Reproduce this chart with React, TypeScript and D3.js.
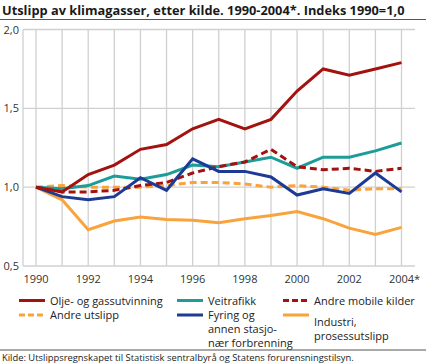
import React from "react";
import * as d3 from "d3";

const years = [1990, 1991, 1992, 1993, 1994, 1995, 1996, 1997, 1998, 1999, 2000, 2001, 2002, 2003, 2004];
const tickYears = [1990, 1992, 1994, 1996, 1998, 2000, 2002, 2004];
const tickYearLabels = ["1990", "1992", "1994", "1996", "1998", "2000", "2002", "2004*"];
const yTicks = [0.5, 1.0, 1.5, 2.0];

const oljeGass = [1.0, 0.97, 1.08, 1.14, 1.24, 1.27, 1.37, 1.43, 1.37, 1.43, 1.61, 1.75, 1.71, 1.75, 1.79];
const veitrafikk = [1.0, 0.99, 1.01, 1.07, 1.05, 1.08, 1.14, 1.13, 1.16, 1.19, 1.12, 1.19, 1.19, 1.23, 1.28];
const andreMobile = [1.0, 0.97, 0.97, 0.98, 1.01, 1.03, 1.09, 1.13, 1.16, 1.24, 1.13, 1.11, 1.12, 1.1, 1.12];
const andreUtslipp = [1.0, 1.01, 1.0, 1.0, 1.0, 1.01, 1.03, 1.03, 1.02, 1.0, 1.01, 1.0, 0.98, 0.99, 0.99];
const fyring = [1.0, 0.94, 0.92, 0.94, 1.06, 0.98, 1.18, 1.1, 1.1, 1.065, 0.95, 0.99, 0.96, 1.09, 0.97];
const industri = [1.0, 0.92, 0.73, 0.785, 0.81, 0.795, 0.79, 0.775, 0.8, 0.82, 0.845, 0.8, 0.74, 0.7, 0.745];

const RED = "#a3120f";
const TEAL = "#1e9c98";
const BLUE = "#1d3a94";
const ORANGE = "#f8a33c";

type Series = { name: string[]; values: number[]; color: string; dashed: boolean };

const series: Series[] = [
  { name: ["Olje- og gassutvinning"], values: oljeGass, color: RED, dashed: false },
  { name: ["Veitrafikk"], values: veitrafikk, color: TEAL, dashed: false },
  { name: ["Andre mobile kilder"], values: andreMobile, color: RED, dashed: true },
  { name: ["Andre utslipp"], values: andreUtslipp, color: ORANGE, dashed: true },
  { name: ["Fyring og", "annen stasjo-", "nær forbrenning"], values: fyring, color: BLUE, dashed: false },
  { name: ["Industri,", "prosessutslipp"], values: industri, color: ORANGE, dashed: false },
];

// draw order (back to front)
const drawOrder = [5, 3, 1, 2, 4, 0];

// legend layout
const legendPos = [
  { x: 19, y: 300.5, textDy: 0 },
  { x: 177, y: 300.5, textDy: 0 },
  { x: 283, y: 300.5, textDy: 0 },
  { x: 19, y: 315, textDy: 0 },
  { x: 177, y: 315, textDy: 0 },
  { x: 283, y: 315, textDy: 7 },
];

const FONT = "'Open Sans', 'DejaVu Sans', sans-serif";

export default function App() {
  const W = 426;
  const H = 364;
  const left = 23;
  const right = 415;
  const top = 29.5;
  const bottom = 266;

  const x = d3.scaleLinear().domain([1990, 2004]).range([36, 401.5]);
  const y = d3.scaleLinear().domain([0.5, 2.0]).range([bottom, top]);

  const line = d3
    .line<number>()
    .x((_, i) => x(years[i]))
    .y((d) => y(d));

  return (
    <svg
      width={W}
      height={H}
      style={{ position: "absolute", left: 0, top: 0, display: "block" }}
      fontFamily={FONT}
    >
      <rect x={0} y={0} width={W} height={H} fill="#ffffff" />
      <text x={2} y={15} fontSize={12.8} fontWeight="bold" fill="#1a1a1a">
        Utslipp av klimagasser, etter kilde. 1990-2004*. Indeks 1990=1,0
      </text>
      <line x1={0} x2={W} y1={19.5} y2={19.5} stroke="#555" strokeWidth={1} />

      {/* grid */}
      {years.map((yr) => (
        <line key={"v" + yr} x1={x(yr)} x2={x(yr)} y1={top} y2={bottom} stroke="#d0d0d0" strokeWidth={1.3} />
      ))}
      {yTicks.map((t) => (
        <line key={"h" + t} x1={left} x2={right} y1={y(t)} y2={y(t)} stroke="#d0d0d0" strokeWidth={1.3} />
      ))}
      <line x1={left} x2={left} y1={top} y2={bottom} stroke="#d0d0d0" strokeWidth={1.3} />

      {yTicks.map((t) => (
        <text key={"yl" + t} x={19} y={y(t) + 4} fontSize={11} textAnchor="end" fill="#333">
          {d3.format(".1f")(t).replace(".", ",")}
        </text>
      ))}
      {tickYears.map((yr, i) => (
        <text
          key={"xl" + yr}
          x={x(yr) + (i === tickYears.length - 1 ? 3 : 0)}
          y={283}
          fontSize={11}
          textAnchor="middle"
          fill="#333"
        >
          {tickYearLabels[i]}
        </text>
      ))}

      {drawOrder.map((idx) => {
        const s = series[idx];
        return (
          <path
            key={"s" + idx}
            d={line(s.values) || ""}
            fill="none"
            stroke={s.color}
            strokeWidth={3}
            strokeDasharray={s.dashed ? "7,4" : undefined}
            strokeLinejoin="miter"
          />
        );
      })}

      {series.map((s, i) => {
        const p = legendPos[i];
        return (
          <g key={"lg" + i}>
            <line
              x1={p.x}
              x2={p.x + 26}
              y1={p.y}
              y2={p.y}
              stroke={s.color}
              strokeWidth={3}
              strokeDasharray={s.dashed ? "6,3" : undefined}
            />
            {s.name.map((n, j) => (
              <text key={j} x={p.x + 31} y={p.y + 4 + p.textDy + j * 14} fontSize={11} fill="#222">
                {n}
              </text>
            ))}
          </g>
        );
      })}

      <line x1={0} x2={W} y1={350} y2={350} stroke="#555" strokeWidth={1} />
      <text x={2} y={361} fontSize={9.4} fill="#222">
        Kilde: Utslippsregnskapet til Statistisk sentralbyrå og Statens forurensningstilsyn.
      </text>
    </svg>
  );
}
